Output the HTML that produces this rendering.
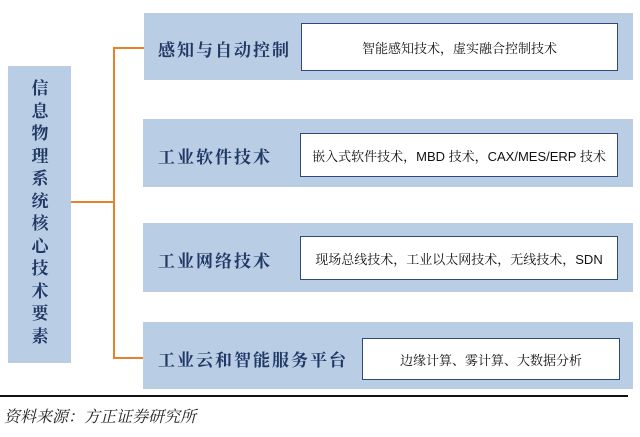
<!DOCTYPE html>
<html><head><meta charset="utf-8"><style>
body{margin:0;width:640px;height:437px;background:#fff;position:relative;overflow:hidden;font-family:"Liberation Serif","Noto Serif CJK SC",serif;}
.b{position:absolute;background:#b9cde5;}
.t{position:absolute;color:#1f3864;font-weight:bold;font-size:17px;letter-spacing:2px;white-space:nowrap;}
.w{position:absolute;background:#fff;border:1.5px solid #2f4a7a;box-sizing:border-box;color:#111;font-size:13px;display:flex;align-items:center;justify-content:center;white-space:nowrap;font-family:"Liberation Sans","Noto Serif CJK SC",serif;}
.o{position:absolute;background:#e8822a;}
</style></head><body>
<div class="b" style="left:8px;top:66px;width:63px;height:297px;"></div>
<div class="t" style="left:30px;top:78px;width:20px;font-size:17px;line-height:22.5px;white-space:normal;text-align:center;letter-spacing:0;">信息物理系统核心技术要素</div>
<div class="o" style="left:71px;top:201px;width:44px;height:2px;"></div>
<div class="o" style="left:113px;top:47px;width:2px;height:312px;"></div>
<div class="o" style="left:113px;top:47px;width:31px;height:2px;"></div>
<div class="o" style="left:113px;top:357px;width:31px;height:2px;"></div>

<div class="b" style="left:144px;top:13px;width:489px;height:67px;"></div>
<div class="t" style="left:158px;top:36px;">感知与自动控制</div>
<div class="w" style="left:301px;top:23px;width:317px;height:48px;">智能感知技术，虚实融合控制技术</div>

<div class="b" style="left:143px;top:119px;width:490px;height:68px;"></div>
<div class="t" style="left:158px;top:143px;">工业软件技术</div>
<div class="w" style="left:300px;top:133px;width:318px;height:44px;">嵌入式软件技术，MBD 技术，CAX/MES/ERP 技术</div>

<div class="b" style="left:143px;top:223px;width:490px;height:69px;"></div>
<div class="t" style="left:158px;top:247px;">工业网络技术</div>
<div class="w" style="left:300px;top:236px;width:318px;height:44px;">现场总线技术，工业以太网技术，无线技术，SDN</div>

<div class="b" style="left:143px;top:322px;width:490px;height:67px;"></div>
<div class="t" style="left:158px;top:346px;">工业云和智能服务平台</div>
<div class="w" style="left:362px;top:338px;width:258px;height:42px;">边缘计算、雾计算、大数据分析</div>

<div style="position:absolute;left:0;top:395px;width:628px;height:2px;background:#111;"></div>
<div style="position:absolute;left:4px;top:404px;font-size:16px;font-style:italic;color:#222;">资料来源：方正证券研究所</div>
</body></html>
